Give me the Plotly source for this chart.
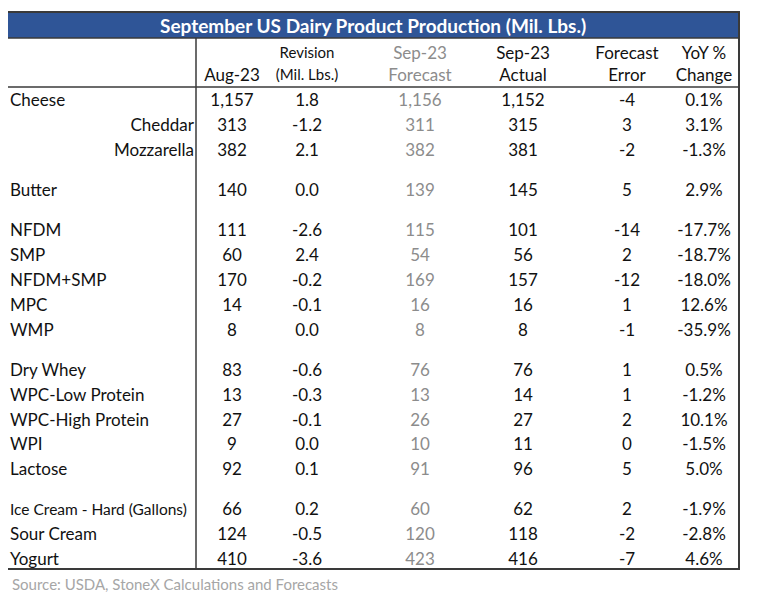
import plotly.graph_objects as go

# ---------------- data ----------------
title = "September US Dairy Product Production (Mil. Lbs.)"
source = "Source: USDA, StoneX Calculations and Forecasts"

products = ["Cheese", "Cheddar", "Mozzarella", "Butter", "NFDM", "SMP", "NFDM+SMP",
            "MPC", "WMP", "Dry Whey", "WPC-Low Protein", "WPC-High Protein", "WPI",
            "Lactose", "Ice Cream - Hard (Gallons)", "Sour Cream", "Yogurt"]
groups = [0, 0, 0, 1, 2, 2, 2, 2, 2, 3, 3, 3, 3, 3, 4, 4, 4]
sub_items = ["Cheddar", "Mozzarella"]

aug23 = [1157, 313, 382, 140, 111, 60, 170, 14, 8, 83, 13, 27, 9, 92, 66, 124, 410]
revision = [1.8, -1.2, 2.1, 0.0, -2.6, 2.4, -0.2, -0.1, 0.0, -0.6, -0.3, -0.1, 0.0, 0.1, 0.2, -0.5, -3.6]
sep23_forecast = [1156, 311, 382, 139, 115, 54, 169, 16, 8, 76, 13, 26, 10, 91, 60, 120, 423]
sep23_actual = [1152, 315, 381, 145, 101, 56, 157, 16, 8, 76, 14, 27, 11, 96, 62, 118, 416]
forecast_error = [-4, 3, -2, 5, -14, 2, -12, 1, -1, 1, 1, 2, 0, 5, 2, -2, -7]
yoy_change = [0.1, 3.1, -1.3, 2.9, -17.7, -18.7, -18.0, 12.6, -35.9, 0.5, -1.2, 10.1, -1.5,
              5.0, -1.9, -2.8, 4.6]

header_top = ["", "Revision", "Sep-23", "Sep-23", "Forecast", "YoY %"]
header_bottom = ["Aug-23", "(Mil. Lbs.)", "Forecast", "Actual", "Error", "Change"]

# ---------------- layout constants ----------------
PAGE_OFFSET = 8  # default body margin of the page
W, H = 757, 597
FONT = "Lato"
DARK = "#111111"
GREY = "#8c8c8c"
BLUE = "#2f5597"
LINE = "#3a3a3a"

left, right, top, bottom = 7, 739, 12, 569
title_bottom = 38
header_bottom_y = 87
label_right = 196
col_x = [232, 307, 420, 523, 627, 704]
row_y0, row_step, group_gap = 102, 24.85, 15.3
head_y1, head_y2 = 54.5, 76.5

row_y = [row_y0 + i * row_step + g * group_gap for i, g in enumerate(groups)]


def fmt_int(v):
    return f"{v:,}"


columns = [
    [fmt_int(v) for v in aug23],
    [f"{v:.1f}" for v in revision],
    [fmt_int(v) for v in sep23_forecast],
    [fmt_int(v) for v in sep23_actual],
    [f"{v}" for v in forecast_error],
    [f"{v:.1f}%" for v in yoy_change],
]
col_colors = [DARK, DARK, GREY, DARK, DARK, DARK]

fig = go.Figure()

# body values
for j, vals in enumerate(columns):
    fig.add_trace(go.Scatter(
        x=[col_x[j]] * len(vals), y=row_y, text=vals, mode="text",
        textposition="middle center",
        textfont=dict(family=FONT, size=17, color=col_colors[j]),
        hoverinfo="skip", showlegend=False))

# labels
main_idx = [i for i, p in enumerate(products) if p not in sub_items]
sub_idx = [i for i, p in enumerate(products) if p in sub_items]
fig.add_trace(go.Scatter(
    x=[left + 3] * len(main_idx), y=[row_y[i] for i in main_idx],
    text=[products[i] for i in main_idx], mode="text", textposition="middle right",
    textfont=dict(family=FONT, size=[15.5 if "Gallons" in products[i] else 17 for i in main_idx],
                  color=DARK),
    hoverinfo="skip", showlegend=False))
fig.add_trace(go.Scatter(
    x=[label_right - 2] * len(sub_idx), y=[row_y[i] for i in sub_idx],
    text=[products[i] for i in sub_idx], mode="text", textposition="middle left",
    textfont=dict(family=FONT, size=17, color=DARK),
    hoverinfo="skip", showlegend=False))

# headers
for j in range(len(col_x)):
    c = col_colors[j]
    small = j == 1
    fig.add_trace(go.Scatter(
        x=[col_x[j], col_x[j]], y=[head_y1, head_y2],
        text=[header_top[j], header_bottom[j]], mode="text", textposition="middle center",
        textfont=dict(family=FONT, size=15 if small else 17, color=c),
        hoverinfo="skip", showlegend=False))

shapes = [
    dict(type="rect", x0=left, x1=right, y0=top, y1=title_bottom, fillcolor=BLUE,
         line=dict(width=0), layer="below"),
    dict(type="rect", x0=left, x1=right, y0=top, y1=bottom, line=dict(color=LINE, width=2)),
    dict(type="line", x0=left, x1=right, y0=title_bottom, y1=title_bottom,
         line=dict(color=LINE, width=1.5)),
    dict(type="line", x0=left, x1=right, y0=header_bottom_y, y1=header_bottom_y,
         line=dict(color=LINE, width=1.5)),
    dict(type="line", x0=label_right, x1=label_right, y0=title_bottom, y1=bottom,
         line=dict(color=LINE, width=1.5)),
]

annotations = [
    dict(x=(left + right) / 2, y=(top + title_bottom) / 2 + 0.5, text=f"<b>{title}</b>",
         showarrow=False, xref="x", yref="y", xanchor="center", yanchor="middle",
         font=dict(family=FONT, size=19, color="white")),
    dict(x=left + 3, y=584, text=source, showarrow=False, xref="x", yref="y",
         xanchor="left", yanchor="middle", font=dict(family=FONT, size=15, color="#a6a6a6")),
]

fig.update_layout(
    width=W - PAGE_OFFSET, height=H - PAGE_OFFSET, margin=dict(l=0, r=0, t=0, b=0),
    paper_bgcolor="white", plot_bgcolor="white",
    xaxis=dict(range=[PAGE_OFFSET, W], visible=False, fixedrange=True),
    yaxis=dict(range=[H, PAGE_OFFSET], visible=False, fixedrange=True),
    shapes=shapes, annotations=annotations,
)

fig.write_html("out.html")
